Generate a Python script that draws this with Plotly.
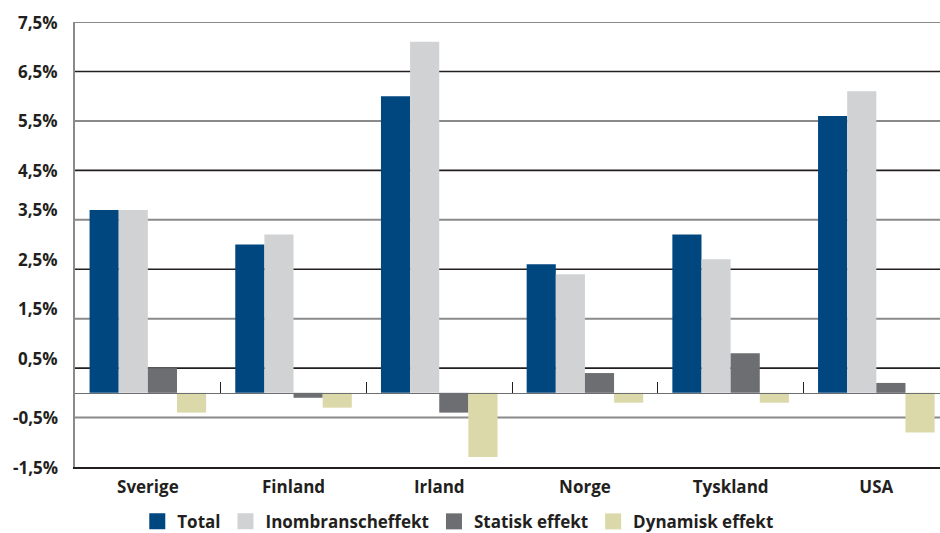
import plotly.graph_objects as go

countries = ["Sverige", "Finland", "Irland", "Norge", "Tyskland", "USA"]
total = [3.7, 3.0, 6.0, 2.6, 3.2, 5.6]
inombransch = [3.7, 3.2, 7.1, 2.4, 2.7, 6.1]
statisk = [0.5, -0.1, -0.4, 0.4, 0.8, 0.2]
dynamisk = [-0.4, -0.3, -1.3, -0.2, -0.2, -0.8]

series_names = ["Total", "Inombranscheffekt", "Statisk effekt", "Dynamisk effekt"]
series_values = [total, inombransch, statisk, dynamisk]
series_colors = ["#00467f", "#d1d2d4", "#6d6e71", "#dbd9a9"]

y_ticks = [7.5, 6.5, 5.5, 4.5, 3.5, 2.5, 1.5, 0.5, -0.5, -1.5]
y_tick_text = ["7,5%", "6,5%", "5,5%", "4,5%", "3,5%", "2,5%", "1,5%", "0,5%", "-0,5%", "-1,5%"]
# labels that sit a little above their gridline
raised_labels = [3.5, 2.5, 1.5, 0.5]
dark_grid = [6.5, 4.5, 2.5, 0.5]
grey_grid = [7.5, 5.5, 3.5, 1.5, -0.5]

FONT = "Open Sans"
TEXT = "#231f20"
FS = 17

x_idx = list(range(len(countries)))
x_range = [-0.5, 5.437]

fig = go.Figure()
for name, vals, col in zip(series_names, series_values, series_colors):
    fig.add_trace(go.Bar(
        x=x_idx, y=vals, name=name, marker=dict(color=col, line=dict(width=0)),
        legendgroup=name, showlegend=False,
    ))
# square legend keys
for name, col in zip(series_names, series_colors):
    fig.add_trace(go.Scatter(
        x=[None], y=[None], name=name, mode="markers", legendgroup=name,
        marker=dict(symbol="square", size=16, color=col, line=dict(width=0)),
    ))

shapes = []
for v in dark_grid:
    shapes.append(dict(type="line", xref="paper", yref="y", x0=0, x1=1, y0=v, y1=v,
                       line=dict(color="#231f20", width=1.6), layer="below"))
for v in grey_grid:
    shapes.append(dict(type="line", xref="paper", yref="y", x0=0, x1=1, y0=v, y1=v,
                       line=dict(color="#8a8a8a", width=2), layer="below"))

annotations = []
for v, t in zip(y_ticks, y_tick_text):
    annotations.append(dict(
        x=0, xref="paper", y=v, yref="y", text=t, showarrow=False,
        xanchor="right", yanchor="middle", xshift=-15,
        yshift=10 if v in raised_labels else 0,
        font=dict(family=FONT, size=FS, color=TEXT, weight="bold"),
    ))

fig.update_layout(
    width=940, height=533,
    margin=dict(l=75, r=0, t=22, b=66),
    paper_bgcolor="white", plot_bgcolor="white",
    barmode="group", bargap=0.2, bargroupgap=0,
    font=dict(family=FONT, size=FS, color=TEXT),
    shapes=shapes, annotations=annotations,
    showlegend=True,
    legend=dict(
        orientation="h", xref="container", yref="container",
        x=0.487, xanchor="center", y=0.021, yanchor="middle",
        font=dict(family=FONT, size=FS, color=TEXT, weight="bold"),
        itemwidth=30, tracegroupgap=0,
    ),
    xaxis=dict(
        range=x_range, tickvals=x_idx, ticktext=countries,
        showgrid=False, zeroline=False, ticks="",
        showline=True, linecolor="#231f20", linewidth=1.6,
        tickfont=dict(family=FONT, size=FS, color=TEXT, weight="bold"),
        ticklabelstandoff=4,
    ),
    xaxis2=dict(
        overlaying="x", matches="x", anchor="free", position=1.5 / 9,
        side="bottom", showgrid=False, zeroline=False,
        showline=True, linecolor="#6d6e71", linewidth=1.2,
        ticks="inside", ticklen=11, tickwidth=1.2, tickcolor="#231f20",
        tickvals=[i + 0.5 for i in x_idx[:-1]], showticklabels=False,
    ),
    yaxis=dict(
        range=[-1.5, 7.5], tickvals=y_ticks, showticklabels=False,
        showgrid=False, zeroline=False,
        showline=True, linecolor="#8a8a8a", linewidth=1.6,
    ),
)

# invisible trace that carries the zero-line axis with its category ticks
fig.add_trace(go.Scatter(x=[x_range[0]], y=[0], xaxis="x2", mode="markers",
                         marker=dict(opacity=0), showlegend=False, hoverinfo="skip"))

fig.write_html("out.html")
